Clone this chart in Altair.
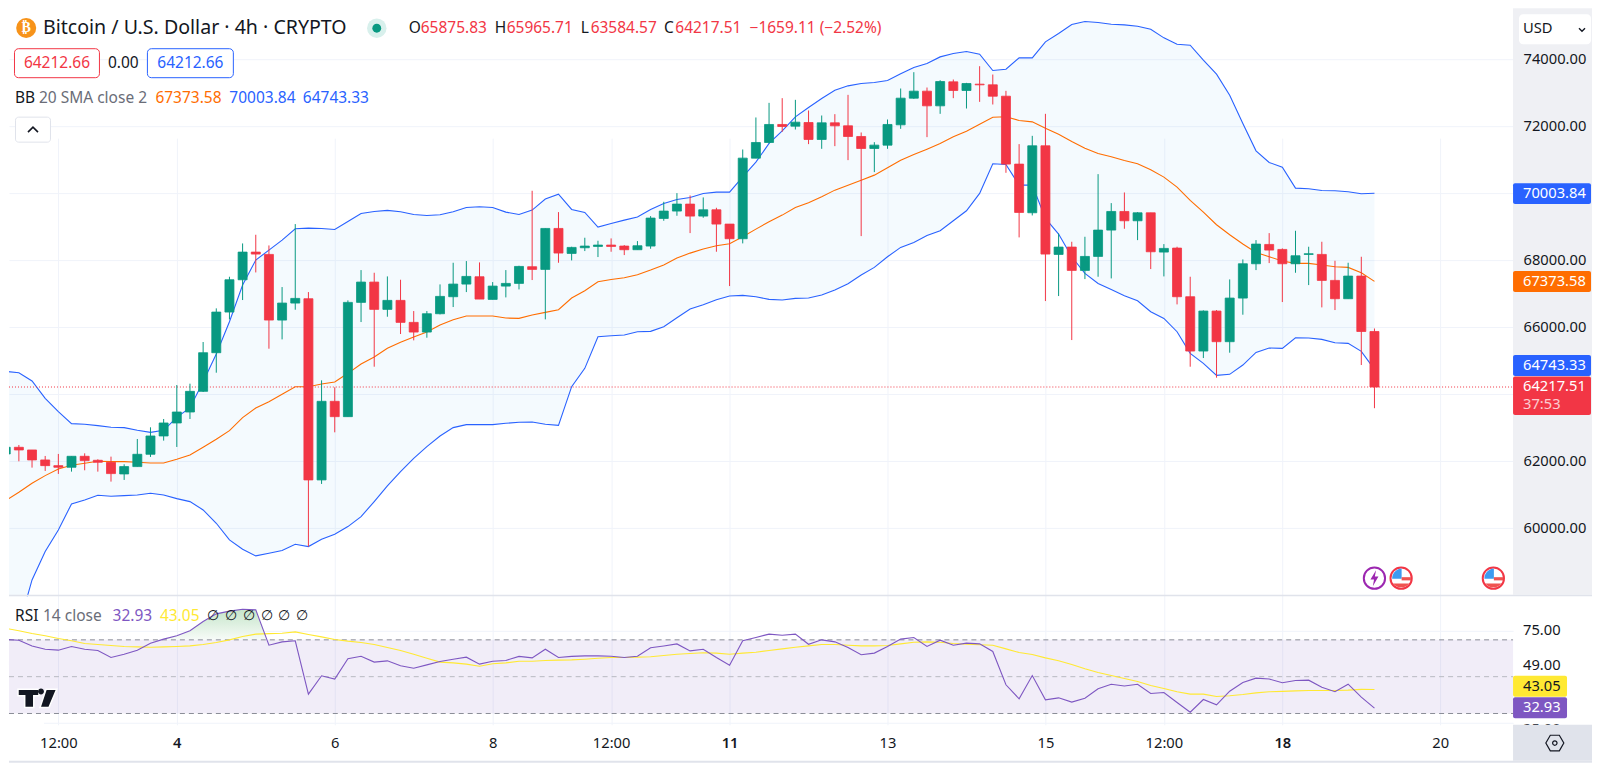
import altair as alt
import pandas as pd

FONT = "Noto Sans"
GREEN, RED, BLUE, ORANGE = "#089981", "#f23645", "#2962ff", "#ff6d00"
PURPLE, YELLOW = "#7e57c2", "#ffe933"
INK, GREY, BORDER, GRID = "#131722", "#6a6d78", "#e0e3eb", "#f0f3fa"
AX = 14.7   # axis and price-tag text
LG = 15.5   # legend text

opens = [62218,62417,62337,62039,61869,61820,62148,62029,61969,61621,
61840,62208,62755,63143,63471,64088,65242,66456,67421,68247,
68178,66217,66725,66854,61442,63790,63332,66745,67352,66536,
66805,66148,65859,66406,66914,67292,67511,66834,67232,67312,
67810,67730,68954,68208,68377,68417,68457,68427,68318,68427,
69253,69472,69681,69322,69511,69084,68646,71054,71521,72059,
72009,72118,71611,72108,72019,71700,71342,71442,72049,72845,
73054,72616,73332,73074,73263,73243,72904,70875,69422,71422,
68178,68397,67700,68118,68904,69461,69183,69421,68247,68367,
66914,65292,66486,65571,66874,67899,68476,68327,67899,68178,
68178,67402,66854,67531,65875.83]
highs = [63133,62486,62337,62158,62218,62148,62237,62058,62138,61909,
62665,63014,63262,64277,64317,65561,66566,67511,68506,68765,
68446,67203,69084,67053,64417,64208,66805,67710,67630,67521,
67421,66486,66486,67282,67929,67979,67939,67352,67710,67839,
70079,68954,69442,68407,68676,68586,68656,68457,68576,69322,
69750,70009,69939,69880,69571,69084,71312,72268,72705,72845,
72795,72477,72327,72367,72944,71820,71531,72208,73133,73621,
73163,73382,73402,73302,73800,73551,73064,71472,71720,72377,
68805,68556,68705,70576,69710,70028,69441,69421,68486,68407,
67511,66506,66516,67431,68028,68605,68814,68357,68884,68407,
68556,67989,67929,68108,65965.71]
lows = [62218,61999,61810,61710,61621,61690,61730,61690,61392,61442,
61840,62128,62616,62427,63262,64068,64645,66237,66815,67640,
65362,65640,66526,59451,61322,62864,63332,66158,64824,66317,
65800,65611,65690,66387,66606,67053,66844,66834,66894,67133,
67412,66238,67929,67999,68278,68099,68258,68158,68318,68347,
69183,69332,68815,69273,68258,67233,68507,71054,71492,71840,
71909,71472,71332,71412,70994,68725,70636,71332,71929,72825,
71681,72377,72845,72536,72735,72656,70616,68686,69342,66785,
66934,65620,67441,67511,67461,68944,68605,67740,67521,66685,
64824,65083,64496,65242,66377,67710,67919,66755,67630,67262,
66596,66516,66854,64874,63584.57]
closes = [62417,62337,62039,61869,61820,62148,62019,61969,61631,61840,
62208,62755,63143,63471,64088,65242,66456,67421,68247,68188,
66217,66725,66864,61442,63790,63332,66745,67352,66536,66805,
66148,65859,66406,66924,67292,67521,66844,67232,67312,67819,
67730,68954,68218,68387,68427,68457,68417,68318,68437,69263,
69472,69681,69322,69511,69084,68646,71054,71521,72059,71999,
72128,71611,72108,72019,71700,71342,71442,72059,72845,73054,
72616,73342,73074,73283,73243,72904,70875,69432,71422,68188,
68397,67700,68118,68904,69461,69183,69421,68257,68357,66914,
65292,66486,65571,66874,67899,68486,68307,67899,68138,68198,
67402,66854,67531,65875.83,64217.51]

bb_upper = [64685,64645,64397,63879,63481,63123,63103,63063,63014,63004,
62924,62864,62924,63312,63601,64377,65203,66168,67262,68009,
68307,68605,68944,68964,68954,68924,69163,69402,69462,69492,
69452,69372,69342,69362,69452,69581,69601,69581,69442,69372,
69502,69830,69979,69521,69432,68994,69104,69203,69293,69521,
69701,69820,69880,69999,70039,70039,70497,70934,71492,71870,
72288,72566,72835,73084,73213,73283,73312,73372,73571,73760,
73880,74078,74178,74238,74158,73671,73710,74049,74049,74526,
74775,75044,75133,75103,75054,75034,74994,74904,74646,74457,
74427,73979,73561,72934,72089,71273,70924,70785,70158,70138,
70088,70079,70049,69989,70003.84]
bb_middle = [60825,61073,61342,61571,61770,61879,61939,61999,61989,61989,
61969,61949,61949,62058,62188,62417,62655,62914,63302,63591,
63780,64000,64227,64227,64307,64367,64626,64904,65113,65372,
65551,65710,65859,66068,66228,66337,66337,66337,66277,66267,
66367,66446,66526,66874,67093,67362,67431,67481,67571,67710,
67859,68068,68217,68337,68436,68496,68705,68934,69153,69352,
69581,69720,69899,70098,70247,70396,70546,70765,70993,71163,
71322,71491,71690,71860,72069,72277,72288,72178,72138,71949,
71770,71551,71352,71193,71094,70984,70885,70705,70487,70188,
69790,69442,69064,68765,68487,68238,68109,67979,67910,67910,
67860,67810,67790,67631,67373.58]
bb_lower = [55670,57064,58456,59302,59949,60725,60844,60984,60954,60974,
60994,61044,60994,60884,60795,60546,60148,59650,59372,59173,
59252,59332,59521,59451,59670,59820,60049,60347,60795,61262,
61690,62088,62437,62755,63004,63093,63093,63093,63133,63163,
63173,63103,63073,64227,64775,65720,65750,65770,65869,65879,
66018,66287,66546,66675,66825,66934,66954,66914,66834,66815,
66864,66874,66964,67113,67302,67561,67790,68108,68387,68536,
68745,68884,69183,69481,69999,70884,70864,70247,70247,69252,
68785,68108,67610,67312,67133,66944,66795,66466,66267,65869,
65222,64924,64566,64596,64874,65252,65382,65372,65690,65680,
65640,65541,65521,65282,64743.33]

rsi = [70.2,69.8,66.7,64.9,64.4,66.4,64.9,64.2,60.4,62.2,
64.4,68.2,70.4,72.2,74.9,80,84.1,85.6,86.6,86.3,
67.1,68.9,69.5,40.5,50.5,48.7,59.7,61.1,57.9,58.6,
55.9,54.6,56.4,58.2,59.5,60.6,56.8,58.4,58.8,61,
60.2,64.9,60.4,61,61.3,61.3,61.1,60.4,61.1,65.7,
66.7,67.8,64,64.9,60.4,56.2,69.5,71.3,73.1,72.5,
73.1,67.6,70,68.9,65.8,61.9,62.8,66.4,70.4,71.3,
66.4,69.8,67.1,68.2,67.8,63.7,45.6,38,50.6,37.4,
38.5,36.2,38.3,43.4,45.9,44.9,45.9,40.9,41.4,36,
30.7,37.6,34.7,42.1,46.8,49.2,48.7,46.7,47.9,48.1,
44.3,41.8,45.9,38.9,32.93]
rsi_ma = [76.3,74.9,73.4,72.2,70.7,69.5,68,67.5,66.9,66.4,
66.2,66,66.2,66.4,66.7,67.5,68.6,70,71.8,73.1,
73.4,73.6,74.3,72.9,71.6,70.2,69.3,68.6,67.5,65.8,
64.2,62.2,60,57.9,57.5,56.8,55.7,57,57.5,58.4,
58.4,58.8,59,59.1,59.5,60,60.4,60.4,60.6,60.8,
61.5,62.2,62.6,63,62.8,62.2,62.8,63.3,64.2,65.1,
66,66.7,67.5,67.5,67.1,66.7,66.7,66.9,67.8,68.7,
68.9,68.7,68,67.6,67.3,67.1,65.1,63.1,62,60.2,
58.6,56.6,54.3,52.3,50.6,49,47.4,45.2,43.6,41.8,
40.5,40.5,39.2,39.6,40.3,41.2,41.8,42,42.3,42.5,
42.5,42.5,42.7,43.1,43.05]

over_k = [11.83,12,13,14,15,16,17,18,19,19.85]
over_rsi = [70,70.4,72.2,74.9,80,84.1,85.6,86.6,86.3,70]

tick_k = [4,13,25,37,46,55,67,79,88,97,109]
tick_txt = ["12:00","4","6","8","12:00","11","13","15","12:00","18","20"]
bold_k = [13,55,97]
price_grid = [60000,62000,64000,66000,68000,70000,72000,74000]
price_labels = [60000,62000,66000,68000,72000,74000]

df = pd.DataFrame({"k":range(len(opens)),"o":opens,"h":highs,"l":lows,"c":closes,
                   "up":bb_upper,"mid":bb_middle,"low":bb_lower,"rsi":rsi,"ma":rsi_ma})
df["dir"] = ["u" if c>=o else "d" for o,c in zip(opens,closes)]
one = pd.DataFrame({"a":[0]})

xs = alt.Scale(domain=[0.25,114.53], nice=False, zero=False, padding=0)
ps = alt.Scale(domain=[58009,75531], range=[587,0], nice=False, zero=False)
rs = alt.Scale(domain=[23.87,93.34], range=[717,589], nice=False, zero=False)

label_map = ",".join(f"'{k}':'{t}'" for k,t in zip(tick_k,tick_txt))
x_axis = alt.Axis(values=tick_k, labelExpr="{"+label_map+"}[''+datum.value]", grid=True,
                  gridColor=GRID, gridWidth=1, domain=False, ticks=False, labelPadding=11,
                  labelFontSize=AX, labelColor=INK, labelFont=FONT, labelFlush=False,
                  labelOverlap=False, labelAngle=0, title=None,
                  labelFontWeight={"expr":"indexof(["+",".join(map(str,bold_k))+"],datum.value)>=0?600:400"})
X = alt.X("k:Q", scale=xs, axis=x_axis, title=None)
price_axis = alt.Axis(values=price_grid,labels=False,ticks=False,domain=False,grid=True,
                      gridColor=GRID,orient="right",title=None)
rsi_axis = alt.Axis(values=[75,25],labels=False,ticks=False,domain=False,grid=True,gridColor=GRID,
                    orient="right",title=None)

def P(f, axis=price_axis):
    return alt.Y(f, scale=ps, axis=axis, title=None)

def R(f, axis=rsi_axis):
    return alt.Y(f, scale=rs, axis=axis, title=None)

def rect(x0,y0,x1,y1,fill,stroke=None,r=0,sw=1):
    kw = dict(fill=fill, cornerRadius=r, opacity=1)
    if stroke: kw.update(stroke=stroke, strokeWidth=sw)
    return alt.Chart(one).mark_rect(**kw).encode(x=alt.value(x0-8),x2=alt.value(x1-8),
                                                 y=alt.value(y0-8),y2=alt.value(y1-8))

def txt(s,x,y,color=INK,size=LG,align="left",weight=400,opacity=1,font=FONT):
    return alt.Chart(one).mark_text(text=s,align=align,baseline="middle",color=color,fontSize=size,
                                    fontWeight=weight,font=font,opacity=opacity).encode(
        x=alt.value(x-8),y=alt.value(y-8))

def dot(x,y,r,fill,stroke=None,sw=1):
    kw = dict(shape="circle",filled=True,fill=fill,size=3.14159*r*r,opacity=1)
    if stroke: kw.update(stroke=stroke,strokeWidth=sw)
    return alt.Chart(one).mark_point(**kw).encode(x=alt.value(x-8),y=alt.value(y-8))

def glyph(path,x,y,half,fill=None,stroke=None,sw=1):
    kw = dict(shape=path,size=(2*half)**2,opacity=1)
    if fill:
        kw.update(filled=True,fill=fill)
    else:
        kw.update(filled=False,fill="transparent")
    if stroke: kw.update(stroke=stroke,strokeWidth=sw)
    else: kw.update(strokeWidth=0)
    return alt.Chart(one).mark_point(**kw).encode(x=alt.value(x-8),y=alt.value(y-8))

cs = alt.Scale(domain=["u","d"],range=[GREEN,RED])
band = alt.Chart(df).mark_area(color="#2196f3",opacity=0.05,clip=True).encode(
    x=X, y=P("up:Q"), y2="low:Q")
def bb(field,color):
    return alt.Chart(df).mark_line(color=color,strokeWidth=1.1,clip=True).encode(x=X,y=P(field+":Q"))
wick = alt.Chart(df).mark_rule(strokeWidth=1,clip=True).encode(
    x=X,y=P("h:Q"),y2="l:Q",color=alt.Color("dir:N",scale=cs,legend=None))
body = alt.Chart(df).mark_bar(size=9,strokeWidth=0.8,clip=True).encode(
    x=X,y=P("o:Q"),y2="c:Q",color=alt.Color("dir:N",scale=cs,legend=None),
    stroke=alt.Stroke("dir:N",scale=cs,legend=None))
last = alt.Chart(pd.DataFrame({"v":[closes[-1]]})).mark_rule(color=RED,strokeWidth=1,strokeDash=[1,2]).encode(
    x=alt.value(0),x2=alt.value(1505),y=P("v:Q"))
price_pane = alt.layer(band,bb("up",BLUE),bb("low",BLUE),bb("mid",ORANGE),last,wick,body)

labels_pane = alt.layer(
    rect(1513,8,1592,595,"#eff0f4"),
    alt.Chart(pd.DataFrame({"v":price_labels})).mark_text(opacity=0).encode(
        x=alt.value(1505),
        y=P("v:Q",alt.Axis(values=price_labels,format=".2f",grid=False,ticks=False,domain=False,
                           labelPadding=10,labelAlign="left",labelFont=FONT,labelFontSize=AX,
                           labelColor=INK,orient="right",zindex=1,title=None,labelFlush=False,
                           labelOverlap=False)),
        text=alt.value("")),
)

rsi_base = alt.Chart(pd.DataFrame({"v":[70],"w":[30]})).mark_rect(fill=PURPLE,opacity=0.11).encode(
    x=alt.value(0),x2=alt.value(1505), y=R("v:Q"), y2="w:Q")
def hline(v,color):
    return alt.Chart(pd.DataFrame({"v":[v]})).mark_rule(color=color,strokeWidth=1,strokeDash=[5,4]).encode(
        x=alt.value(0),x2=alt.value(1505),y=R("v:Q"))
grad = alt.Gradient(gradient="linear",x1=0,x2=0,y1=0,y2=1,
                    stops=[alt.GradientStop(color="#c5e5c9",offset=0),alt.GradientStop(color="#f7fbf8",offset=1)])
over = alt.Chart(pd.DataFrame({"k":over_k,"v":over_rsi,"b":[70]*len(over_k)})).mark_area(color=grad,clip=True).encode(
    x=X,y=R("v:Q"),y2="b:Q")
rsi_line = alt.Chart(df).mark_line(color=PURPLE,strokeWidth=1.1,clip=True).encode(x=X,y=R("rsi:Q"))
ma_line = alt.Chart(df).mark_line(color=YELLOW,strokeWidth=1.1,clip=True).encode(x=X,y=R("ma:Q"))
rsi_ticks = [(75,"75.00"),(55.7,"49.00"),(21.3,"25.00")]
rsi_text = [alt.Chart(pd.DataFrame({"v":[v]})).mark_text(text=t,align="left",baseline="middle",font=FONT,
            fontSize=AX,color=INK).encode(x=alt.value(1515),y=R("v:Q")) for v,t in rsi_ticks]
rsi_pane = alt.layer(rsi_base,over,hline(70,"#8a8d97"),hline(50,"#b8bac2"),hline(30,"#8a8d97"),
                     ma_line,rsi_line,*rsi_text)

tv_t = "M-1,-.47L.077,-.47L.077,-.13L-.19,-.13L-.19,.47L-.656,.47L-.656,-.13L-1,-.13Z"
tv_s = "M.44,-.47L.99,-.47L.59,.47L.13,.47Z"
tv_d = "M.03,-.35A.15,.15 0 1 0 .33,-.35A.15,.15 0 1 0 .03,-.35Z"
bolt = "M.2,-1L-.5,.15L-.05,.15L-.2,1L.5,-.2L.05,-.2Z"
chev_up = "M-1,.5L0,-.5L1,.5"
chev_dn = "M-1,-.5L0,.5L1,-.5"
hexa = "M-1,0L-.5,-.87L.5,-.87L1,0L.5,.87L-.5,.87Z"
fl_blue = "M-.9,.05L.05,.05L.05,-.98A1,1 0 0 0 -.9,.05Z"
fl_stripe = "M.05,-.1L.98,-.1L.98,.22L.05,.22Z"
fl_cap = "M-.8,.52L.8,.52A1,1 0 0 1 -.8,.52Z"

def flag(x,y):
    return [dot(x,y,12,"#ffffff",RED,2),
            glyph(fl_blue,x,y,10,fill="#3d9bf0"),
            glyph(fl_stripe,x,y,10,fill="#ef5350"),
            glyph(fl_cap,x,y,10,fill="#ef5350")]

chrome = [
    rect(8,595,1592,596.5,BORDER),
    rect(1513,725,1592,761,BORDER),
    rect(8,761,1592,763,BORDER),
    dot(25.2,27.8,11.3,"#f7931a"),
    txt("₿",25.2,27.8,"#ffffff",14,"center",700,font="DejaVu Sans"),
    txt("Bitcoin / U.S. Dollar · 4h · CRYPTO",42,28,INK,19.6),
    dot(376,28,11,"#d8f0ec"),
    dot(376,28,5,GREEN),
    txt("O",408,28), txt("65875.83",420,28,RED),
    txt("H",494,28), txt("65965.71",506,28,RED),
    txt("L",580,28), txt("63584.57",590,28,RED),
    txt("C",663.5,28), txt("64217.51",674.7,28,RED),
    txt("−1659.11 (−2.52%)",749,28,RED),
    rect(13.5,48.5,98.5,77.5,"#ffffff",RED,4),
    txt("64212.66",56,63,RED,LG,"center"),
    txt("0.00",122.4,63,INK,LG,"center"),
    rect(146.5,48.5,232.5,77.5,"#ffffff",BLUE,4),
    txt("64212.66",189.5,63,BLUE,LG,"center"),
    txt("BB",14,98,INK), txt("20 SMA close 2",38,98,GREY),
    txt("67373.58",154.5,98,ORANGE), txt("70003.84",228.5,98,BLUE), txt("64743.33",302,98,BLUE),
    rect(14.5,117,49.5,142,"#ffffff",BORDER,3),
    glyph(chev_up,32,129.5,5,stroke=INK,sw=1.6),
    rect(1519,14,1591,44,"#ffffff",None,4),
    txt("USD",1523,29,INK,AX),
    glyph(chev_dn,1582,29.5,3,stroke=INK,sw=1.4),
    rect(1513,183,1591,204,BLUE,None,2), txt("70003.84",1523,193.5,"#ffffff",AX),
    rect(1513,271,1591,292,ORANGE,None,2), txt("67373.58",1523,281.5,"#ffffff",AX),
    rect(1513,355,1591,376,BLUE,None,2), txt("64743.33",1523,366,"#ffffff",AX),
    rect(1513,376.5,1591,415,RED,None,2), txt("64217.51",1523,387.5,"#ffffff",AX),
    txt("37:53",1523,405,"#ffffff",AX,opacity=0.75),
    rect(1513,676,1567,697,"#ffe933",None,2), txt("43.05",1523,687,INK,AX),
    rect(1513,697.5,1567,718.5,PURPLE,None,2), txt("32.93",1523,708.5,"#ffffff",AX),
    txt("RSI",14,616,INK), txt("14 close",42,616,GREY),
    txt("32.93",111.6,616,PURPLE), txt("43.05",159,616,YELLOW),
    *[txt("∅",x,616,INK,14,"center") for x in [212,230,248,266,283,301]],
    glyph(tv_t,36.5,698.5,19.5,fill=INK,stroke="#ffffff",sw=1.5),
    glyph(tv_s,36.5,698.5,19.5,fill=INK,stroke="#ffffff",sw=1.5),
    glyph(tv_d,36.5,698.5,19.5,fill=INK),
    dot(1374.3,578.3,12,"#ffffff","#9c27b0",2),
    glyph(bolt,1374.3,578.3,8,fill="#9c27b0"),
    *flag(1401,578.3),
    *flag(1493.3,578.3),
    glyph(hexa,1554.8,743.3,9,stroke=INK,sw=1.2),
    dot(1554.8,743.3,2.5,BORDER,INK,1.2),
]
cover = rect(8,596.5,43,725,"#ffffff")

chart = alt.layer(price_pane,labels_pane,alt.layer(cover),rsi_pane,alt.layer(*chrome)).resolve_scale(
    y="independent"
).properties(width=1505,height=717,padding=0,background="#ffffff").configure_view(stroke=None)

chart.save("out.html", embed_options={"renderer": "svg", "actions": False})
